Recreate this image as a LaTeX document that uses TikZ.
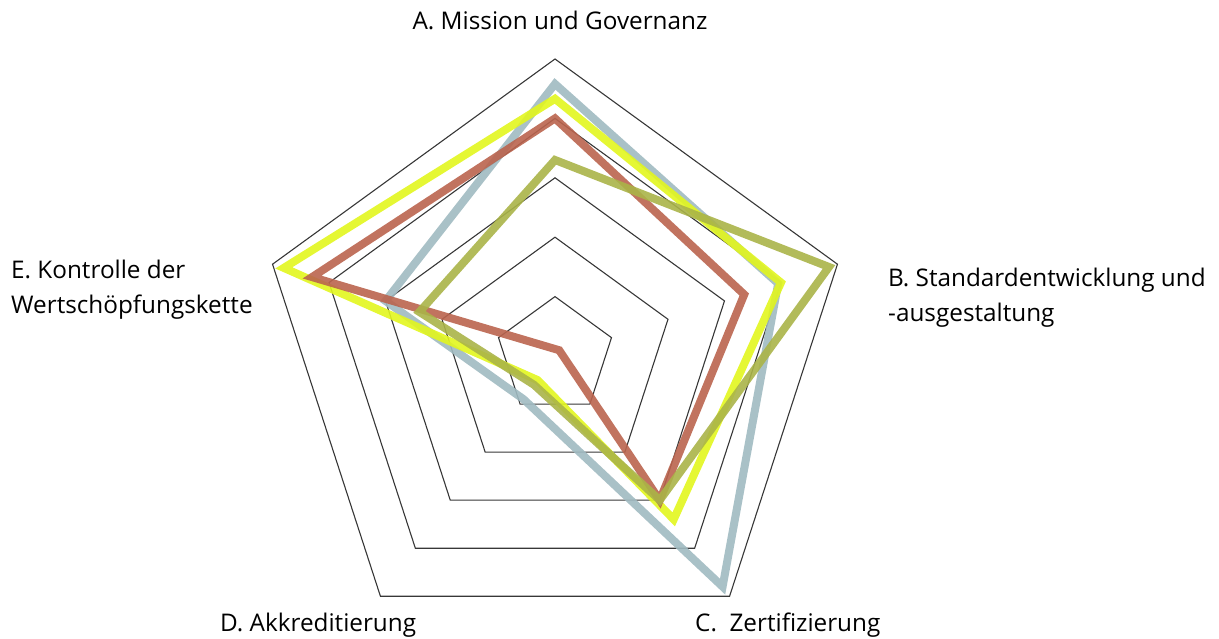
\documentclass[tikz,border=0pt]{standalone}
\usepackage{fontspec}
\setmainfont{Open Sans}
\definecolor{gridgray}{RGB}{55,55,55}
\definecolor{serblue}{RGB}{160,186,193}
\definecolor{seryellow}{RGB}{226,246,30}
\definecolor{serred}{RGB}{186,100,78}
\definecolor{serolive}{RGB}{170,180,72}
\newcommand\radarpoly[6]{\draw[series, draw=#1] (-90:{#2*59.4}) -- (-18:{#3*59.4}) -- (54:{#4*59.4}) -- (126:{#5*59.4}) -- (198:{#6*59.4}) -- cycle;}
\begin{document}
\begin{tikzpicture}[x=1pt,y=-1pt,
  gridline/.style={draw=gridgray, line width=1.1pt, line join=miter},
  series/.style={line width=8pt, line join=miter, opacity=0.9},
  lab/.style={inner sep=0pt, font=\fontsize{24.3}{34}\selectfont, text=black}]
\useasboundingbox (0,0) rectangle (1219,639);
\begin{scope}[shift={(555,356)}]
  \foreach \k in {1,...,5}{
    \draw[gridline] (-90:{\k*59.4}) -- (-18:{\k*59.4}) -- (54:{\k*59.4}) -- (126:{\k*59.4}) -- (198:{\k*59.4}) -- cycle;
  }
  \radarpoly{serblue}{4.58}{3.95}{4.8}{0.9}{3.0}
  \radarpoly{seryellow}{4.33}{4.0}{3.4}{0.5}{4.8}
  \radarpoly{serred}{4.0}{3.35}{3.0}{-0.12}{4.3}
  \radarpoly{serolive}{3.3}{4.85}{3.0}{0.6}{2.4}
\end{scope}
\node[lab, anchor=base] (labA) at (560,30) {A. Mission und Governanz};
\node[lab, anchor=base west] (labB1) at (888,287) {B. Standardentwicklung und};
\node[lab, anchor=base west] (labB2) at (888,321) {-ausgestaltung};
\node[lab, anchor=base west] (labC) at (695,631) {C.\ \ Zertifizierung};
\node[lab, anchor=base west] (labD) at (220,631) {D. Akkreditierung};
\node[lab, anchor=base west] (labE1) at (11,279) {E. Kontrolle der};
\node[lab, anchor=base west] (labE2) at (11,313) {Wertschöpfungskette};
\end{tikzpicture}
\end{document}
